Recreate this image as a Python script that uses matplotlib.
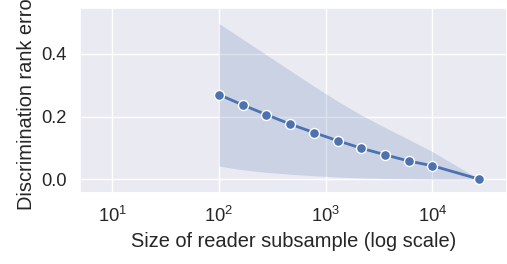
import numpy as np
import matplotlib
matplotlib.use("Agg")
import matplotlib.pyplot as plt
import seaborn as sns

# reader subsample sizes and mean discrimination rank error
sample_sizes = [100, 167, 278, 464, 774, 1292, 2154, 3594, 5995, 10000, 27500]
mean_error = [0.270, 0.237, 0.206, 0.176, 0.149, 0.123, 0.099, 0.078, 0.058, 0.043, 0.0]
upper_error = [0.497, 0.447, 0.397, 0.347, 0.297, 0.249, 0.205, 0.165, 0.127, 0.088, 0.0]
lower_error = [0.042, 0.030, 0.022, 0.016, 0.011, 0.007, 0.004, 0.002, 0.001, 0.0, 0.0]

sns.set_theme(style="darkgrid", font_scale=1.2)
plt.rcParams['font.family'] = ['Liberation Sans', 'DejaVu Sans']

fig = plt.figure(figsize=(5.07, 2.64), dpi=100)
ax = fig.add_axes([0.158, 0.269, 0.842, 0.699])

color = sns.color_palette("deep")[0]
ax.fill_between(sample_sizes, lower_error, upper_error, color=color, alpha=0.2, linewidth=0)
ax.plot(sample_sizes, mean_error, color=color, marker='o', markeredgecolor='white',
        markeredgewidth=1.0, markersize=7.2, linewidth=2.0)

ax.set_xscale('log')
ax.set_xlim(5, 5e4)
ax.set_ylim(-0.044, 0.545)
ax.set_yticks([0.0, 0.2, 0.4])
ax.minorticks_off()
ax.set_xlabel("Size of reader subsample (log scale)")
ax.set_ylabel("Discrimination rank error")

fig.savefig("out.png", dpi=100)
